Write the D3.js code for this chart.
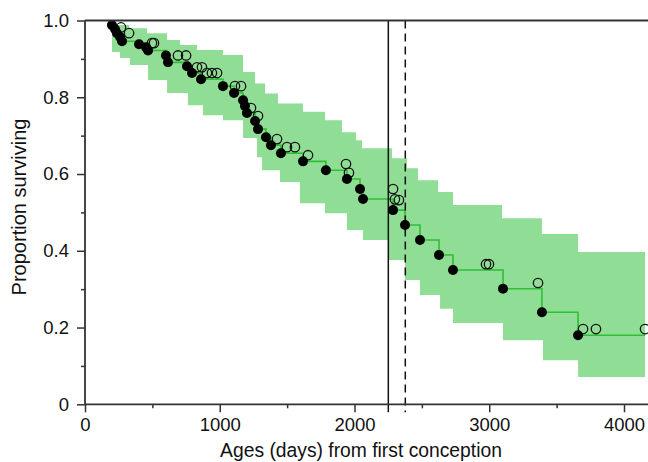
<!DOCTYPE html>
<html><head><meta charset="utf-8">
<script src="https://d3js.org/d3.v7.min.js"></script>
<style>body{margin:0;background:#fff}svg{display:block}text{font-family:"Liberation Sans",Arial,Helvetica,sans-serif;fill:#111}</style>
</head><body><svg id="c" width="648" height="462"></svg>
<script>
// Events (deaths): [days, survival after event]
const eventDays = [200,223,237,260,275,401,453,468,601,616,757,794,861,1024,1106,1173,1187,1202,1262,1284,1343,1380,1454,1618,1788,1944,2041,2063,2286,2375,2486,2627,2731,3102,3391,3659];
const eventSurv = [0.988,0.977,0.967,0.957,0.946,0.938,0.930,0.922,0.909,0.891,0.881,0.863,0.847,0.829,0.811,0.792,0.777,0.759,0.738,0.717,0.696,0.675,0.654,0.633,0.610,0.587,0.561,0.535,0.506,0.467,0.428,0.389,0.350,0.301,0.240,0.180];
// Censored observations
const censDays = [267,327,497,512,690,750,831,868,905,942,980,1113,1158,1232,1284,1425,1499,1558,1655,1937,1959,2286,2300,2330,2976,2998,3362,3696,3792,4156];
const censSurv = [0.982,0.967,0.941,0.941,0.909,0.909,0.878,0.878,0.863,0.863,0.863,0.829,0.829,0.772,0.751,0.691,0.670,0.670,0.649,0.626,0.603,0.561,0.534,0.532,0.365,0.365,0.316,0.196,0.196,0.196];
// Confidence band (step functions)
const upperDays = [200,327,460,609,705,831,1024,1173,1262,1336,1432,1618,1781,1907,2011,2056,2278,2390,2471,2620,2731,3095,3391,3659];
const upperVals = [0.988,0.980,0.967,0.949,0.936,0.923,0.910,0.866,0.836,0.810,0.784,0.762,0.740,0.709,0.688,0.667,0.641,0.615,0.584,0.553,0.519,0.485,0.444,0.397];
const lowerDays = [200,260,334,468,609,764,876,1024,1173,1276,1314,1447,1595,1781,1944,2063,2249,2375,2486,2635,2731,3102,3399,3659];
const lowerVals = [0.918,0.902,0.884,0.845,0.811,0.779,0.753,0.740,0.694,0.644,0.610,0.579,0.524,0.498,0.454,0.428,0.376,0.324,0.285,0.249,0.212,0.167,0.115,0.071];
const bandEnd = 4156;
const refLines = [2251, 2377];
const xTicks = [0,1000,2000,3000,4000];
const yTicks = [0,0.2,0.4,0.6,0.8,1.0];
const yTickLabels = ["0","0.2","0.4","0.6","0.8","1.0"];

const svg = d3.select("#c");
const x = d3.scaleLinear().domain([0,4200]).range([85, 85+4200*0.13475]);
const y = d3.scaleLinear().domain([0,1]).range([404.3, 20.5]);

// band polygon
const pts = [];
upperDays.forEach((d,i)=>{const nx = i<upperDays.length-1?upperDays[i+1]:bandEnd; pts.push([x(d),y(upperVals[i])],[x(nx),y(upperVals[i])]);});
const low = [];
lowerDays.forEach((d,i)=>{const nx = i<lowerDays.length-1?lowerDays[i+1]:bandEnd; low.push([x(d),y(lowerVals[i])],[x(nx),y(lowerVals[i])]);});
low.reverse();
const poly = pts.concat(low);
svg.append("path").attr("d", d3.line()(poly)+"Z").attr("fill","#90dd95").attr("stroke","none");

// step line
const sp = [[x(eventDays[0]), y(1.0)]];
let prev = 1.0;
eventDays.forEach((d,i)=>{sp.push([x(d),y(prev)],[x(d),y(eventSurv[i])]); prev = eventSurv[i];});
sp.push([x(bandEnd), y(prev)]);
svg.append("path").attr("d", d3.line()(sp)).attr("fill","none").attr("stroke","#2fbf34").attr("stroke-width",1.6);

// reference lines
svg.append("line").attr("x1",x(refLines[0])).attr("x2",x(refLines[0])).attr("y1",y(1)).attr("y2",y(0)+8)
  .attr("stroke","#111").attr("stroke-width",1.5);
svg.append("line").attr("x1",x(refLines[1])).attr("x2",x(refLines[1])).attr("y1",y(1)).attr("y2",y(0)+8)
  .attr("stroke","#111").attr("stroke-width",1.5).attr("stroke-dasharray","8,5");

// points
svg.append("g").selectAll("circle").data(censDays).join("circle")
  .attr("cx",(d)=>x(d)).attr("cy",(d,i)=>y(censSurv[i])).attr("r",4.7)
  .attr("fill","none").attr("stroke","#111").attr("stroke-width",1.3);
svg.append("g").selectAll("circle").data(eventDays).join("circle")
  .attr("cx",(d)=>x(d)).attr("cy",(d,i)=>y(eventSurv[i])).attr("r",5).attr("fill","#000");

// axes
const axCol = "#333";
const xAxis = svg.append("g").attr("transform",`translate(0,${y(0)})`)
  .call(d3.axisBottom(x).tickValues(d3.range(0,4300,500)).tickSize(8).tickPadding(6).tickFormat(d=>xTicks.includes(d)?d:""));
const yAxis = svg.append("g").attr("transform",`translate(${x(0)},0)`)
  .call(d3.axisLeft(y).tickValues(d3.range(0,1.01,0.1)).tickSize(8).tickPadding(8).tickFormat(d=>{const k=yTicks.findIndex(v=>Math.abs(v-d)<1e-6);return k>=0?yTickLabels[k]:"";}));
[xAxis,yAxis].forEach(g=>{g.select(".domain").remove(); g.selectAll("line").attr("stroke",axCol).attr("stroke-width",1.5);
  g.selectAll("text").attr("font-size",18.5).attr("fill","#111").style("font-family","'Liberation Sans',Arial,sans-serif");});
xAxis.selectAll(".tick").filter(d=>d%1000!==0).select("line").attr("y2",4);
yAxis.selectAll(".tick").filter((d,i)=>i%2===1).select("line").attr("x2",-4);
// frame lines
svg.append("line").attr("x1",x(0)).attr("x2",648).attr("y1",y(0)).attr("y2",y(0)).attr("stroke",axCol).attr("stroke-width",1.8);
svg.append("line").attr("x1",x(0)).attr("x2",x(0)).attr("y1",y(0)).attr("y2",y(1)).attr("stroke",axCol).attr("stroke-width",1.8);
svg.append("line").attr("x1",x(0)).attr("x2",648).attr("y1",y(1)).attr("y2",y(1)).attr("stroke",axCol).attr("stroke-width",1.8);

svg.append("text").attr("x",361).attr("y",457).attr("text-anchor","middle").attr("font-size",19.3).text("Ages (days) from first conception");
svg.append("text").attr("transform","translate(26,207) rotate(-90)").attr("text-anchor","middle").attr("font-size",20).text("Proportion surviving");
</script></body></html>
